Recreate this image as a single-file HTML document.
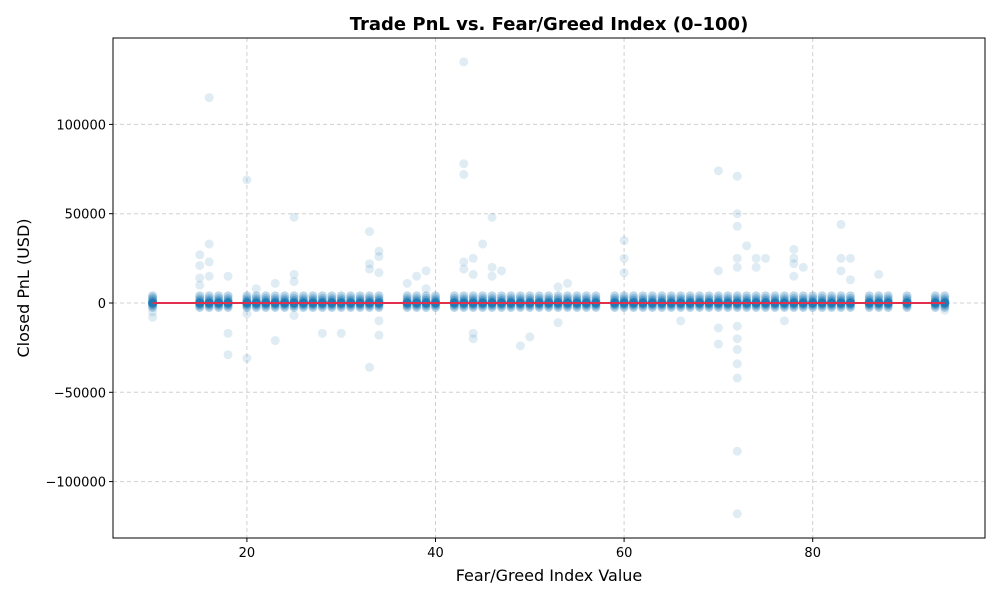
<!DOCTYPE html>
<html><head><meta charset="utf-8"><style>
body{margin:0;background:#fff;font-family:"Liberation Sans","DejaVu Sans",sans-serif}
</style></head><body>
<svg id="chart" width="1000" height="600" xmlns="http://www.w3.org/2000/svg" font-family="DejaVu Sans, Liberation Sans, sans-serif">
<rect width="1000" height="600" fill="#fff"/>
<text x="549" y="30" text-anchor="middle" font-size="18" font-weight="bold">Trade PnL vs. Fear/Greed Index (0–100)</text>
<g id="grid"></g><g id="marks"></g><g id="axes"></g>
<text x="549" y="581" text-anchor="middle" font-size="16">Fear/Greed Index Value</text>
<text transform="translate(29,288) rotate(-90)" text-anchor="middle" font-size="16">Closed PnL (USD)</text>
</svg>
<script>
const categories=[10,15,16,17,18,20,21,22,23,24,25,26,27,28,29,30,31,32,33,34,37,38,39,40,42,43,44,45,46,47,48,49,50,51,52,53,54,55,56,57,59,60,61,62,63,64,65,66,67,68,69,70,71,72,73,74,75,76,77,78,79,80,81,82,83,84,86,87,88,90,93,94];
const coreValues=[-2500,-1500,-800,-300,0,0,0,0,300,800,1500,2500,4000];
const outlierX=[10,10,10,15,15,15,15,16,16,16,16,18,18,18,20,20,20,21,23,23,25,25,25,25,28,30,33,33,33,33,34,34,34,34,34,37,38,39,39,43,43,43,43,43,44,44,44,44,45,46,46,46,47,49,50,53,53,54,60,60,60,66,70,70,70,70,72,72,72,72,72,72,72,72,72,72,72,72,73,74,74,75,77,78,78,78,78,79,83,83,83,84,84,87,94];
const outlierY=[-8000,-5000,3000,27000,21000,14000,10000,115000,33000,23000,15000,15000,-17000,-29000,69000,-31000,-6000,8000,-21000,11000,48000,16000,12000,-7000,-17000,-17000,40000,22000,19000,-36000,29000,26000,17000,-10000,-18000,11000,15000,18000,8000,135000,78000,72000,23000,19000,25000,16000,-17000,-20000,33000,48000,20000,15000,18000,-24000,-19000,9000,-11000,11000,35000,25000,17000,-10000,74000,18000,-14000,-23000,71000,50000,43000,25000,20000,-13000,-20000,-26000,-34000,-42000,-83000,-118000,32000,25000,20000,25000,-10000,30000,25000,22000,15000,20000,44000,25000,18000,25000,13000,16000,-4000];
const xTicks=[20,40,60,80];
const yTicks=[100000,50000,0,-50000,-100000];
const yTickLabels=["100000","50000","0","−50000","−100000"];
const L=113,R=985,T=38,B=538;
const sx=v=>58.3+v*9.43;
const sy=v=>303-v*0.001786;
const NS="http://www.w3.org/2000/svg";
function mk(tag,attrs,parent){const e=document.createElementNS(NS,tag);for(const k in attrs)e.setAttribute(k,attrs[k]);parent.appendChild(e);return e;}
const grid=document.getElementById('grid'),marks=document.getElementById('marks'),axes=document.getElementById('axes');
xTicks.forEach(t=>{
 const g=mk('line',{x1:sx(t),x2:sx(t),y1:T,y2:B,stroke:'#d0d0d0','stroke-dasharray':'4,3'},grid);
 
 
 mk('line',{x1:sx(t),x2:sx(t),y1:B,y2:B+4,stroke:'#000'},axes);
 const tx=mk('text',{x:sx(t),y:B+19,'text-anchor':'middle','font-size':13},axes);tx.textContent=t;
 
 
});
yTicks.forEach((t,i)=>{
 const g=mk('line',{x1:L,x2:R,y1:sy(t),y2:sy(t),stroke:'#d0d0d0','stroke-dasharray':'4,3'},grid);
 
 
 mk('line',{x1:L-4,x2:L,y1:sy(t),y2:sy(t),stroke:'#000'},axes);
 const tx=mk('text',{x:L-7,y:sy(t)+5,'text-anchor':'end','font-size':13},axes);tx.textContent=yTickLabels[i];
 
 
});
const frame=mk('rect',{x:L,y:T,width:R-L,height:B-T,fill:'none',stroke:'#000'},axes);


categories.forEach(c=>{coreValues.forEach(v=>{
 const p=mk('circle',{cx:sx(c),cy:sy(v),r:4.5,fill:'#1f77b4','fill-opacity':0.3},marks);
 
 
});});
outlierX.forEach((c,i)=>{
 const p=mk('circle',{cx:sx(c),cy:sy(outlierY[i]),r:4.5,fill:'#1f77b4','fill-opacity':0.14},marks);
 
 
});
const ln=mk('line',{x1:sx(categories[0]),x2:sx(categories[categories.length-1]),y1:sy(0),y2:sy(0),stroke:'#e0304e','stroke-width':2},marks);


</script>
</body></html>
